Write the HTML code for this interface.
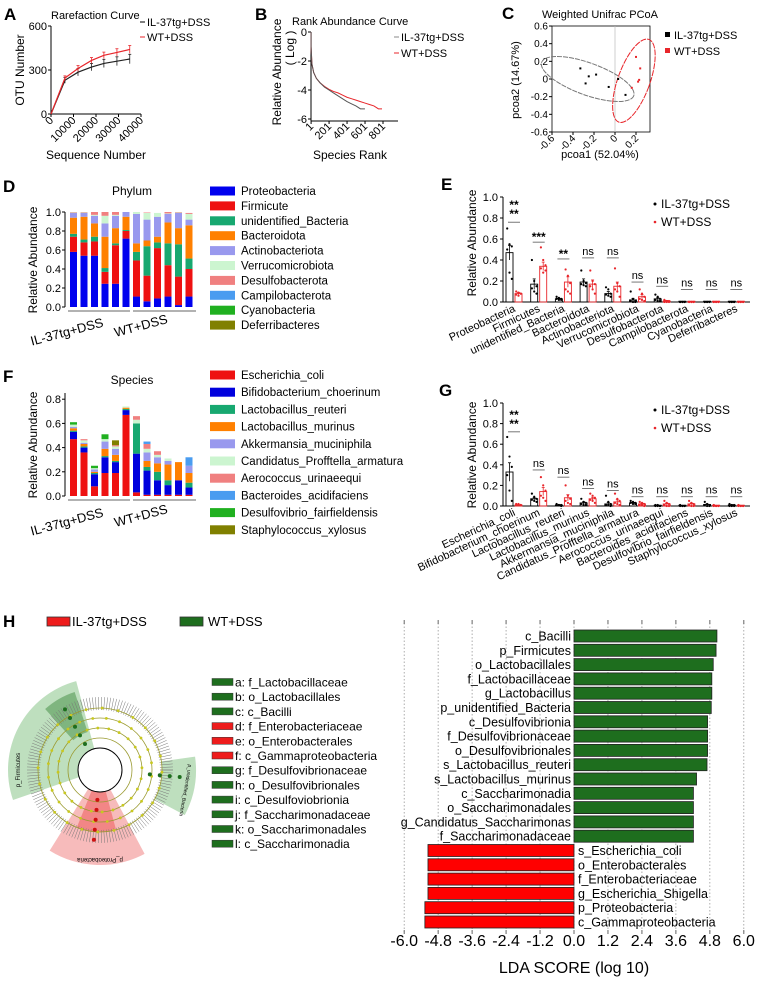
<!DOCTYPE html>
<html><head><meta charset="utf-8">
<style>
html,body{margin:0;padding:0;background:#fff;}
svg{display:block;font-family:"Liberation Sans",Arial,sans-serif;}
</style></head>
<body>
<svg id="fig" width="761" height="983" viewBox="0 0 761 983" xmlns="http://www.w3.org/2000/svg">
<rect width="761" height="983" fill="#fff"/>
<!-- Panel labels -->
<g font-weight="bold" font-size="17" fill="#000">
<text x="4" y="20">A</text>
<text x="255" y="20">B</text>
<text x="502" y="19">C</text>
<text x="3" y="192">D</text>
<text x="441" y="190">E</text>
<text x="3" y="382">F</text>
<text x="439" y="396">G</text>
<text x="3" y="627">H</text>
</g>
<!-- A static -->
<text x="51" y="19" font-size="11">Rarefaction Curve</text>
<text transform="translate(24,70) rotate(-90)" text-anchor="middle" font-size="12">OTU Number</text>
<text x="96" y="159" text-anchor="middle" font-size="12">Sequence Number</text>
<line x1="140" y1="22" x2="145" y2="22" stroke="#000"/>
<text x="147" y="26" font-size="11">IL-37tg+DSS</text>
<line x1="140" y1="37" x2="145" y2="37" stroke="#e8262b"/>
<text x="147" y="41" font-size="11">WT+DSS</text>
<!-- B static -->
<text x="292" y="25" font-size="11">Rank Abundance Curve</text>
<text transform="translate(281,72) rotate(-90)" text-anchor="middle" font-size="12">Relative Abundance</text>
<text transform="translate(294,48) rotate(-90)" text-anchor="middle" font-size="12">( Log )</text>
<text x="350" y="159" text-anchor="middle" font-size="12">Species Rank</text>
<line x1="394" y1="37" x2="399" y2="37" stroke="#888"/>
<text x="401" y="41" font-size="11">IL-37tg+DSS</text>
<line x1="394" y1="53" x2="399" y2="53" stroke="#e8262b"/>
<text x="401" y="57" font-size="11">WT+DSS</text>
<!-- C static -->
<text x="542" y="18" font-size="11">Weighted Unifrac PCoA</text>
<text transform="translate(519,80) rotate(-90)" text-anchor="middle" font-size="11">pcoa2 (14.67%)</text>
<text x="600" y="158" text-anchor="middle" font-size="11">pcoa1 (52.04%)</text>
<rect x="665" y="32" width="5" height="5" fill="#000"/>
<text x="674" y="39" font-size="11">IL-37tg+DSS</text>
<rect x="665" y="48" width="5" height="5" fill="#e8262b"/>
<text x="674" y="55" font-size="11">WT+DSS</text>
<!-- D/F static -->
<text x="132" y="195" text-anchor="middle" font-size="12">Phylum</text>
<text transform="translate(37,260) rotate(-90)" text-anchor="middle" font-size="12">Relative Abundance</text>
<text transform="translate(68,336) rotate(-15)" text-anchor="middle" font-size="13">IL-37tg+DSS</text>
<text transform="translate(142,330) rotate(-15)" text-anchor="middle" font-size="13">WT+DSS</text>
<text x="132" y="384" text-anchor="middle" font-size="12">Species</text>
<text transform="translate(37,445) rotate(-90)" text-anchor="middle" font-size="12">Relative Abundance</text>
<text transform="translate(68,526) rotate(-15)" text-anchor="middle" font-size="13">IL-37tg+DSS</text>
<text transform="translate(142,520) rotate(-15)" text-anchor="middle" font-size="13">WT+DSS</text>
<!-- E/G static -->
<text transform="translate(476,243) rotate(-90)" text-anchor="middle" font-size="12">Relative Abundance</text>
<text transform="translate(476,455) rotate(-90)" text-anchor="middle" font-size="12">Relative Abundance</text>
<circle cx="655" cy="204" r="1.5" fill="#000"/>
<text x="661" y="208" font-size="12">IL-37tg+DSS</text>
<circle cx="655" cy="222" r="1.3" fill="#e8262b"/>
<text x="661" y="226" font-size="12">WT+DSS</text>
<circle cx="655" cy="410" r="1.5" fill="#000"/>
<text x="661" y="414" font-size="12">IL-37tg+DSS</text>
<circle cx="655" cy="428" r="1.3" fill="#e8262b"/>
<text x="661" y="432" font-size="12">WT+DSS</text>
<!-- H static -->
<rect x="47" y="617" width="23" height="9" fill="#ee1c1c" stroke="#333" stroke-width="0.8"/>
<text x="72" y="626" font-size="13">IL-37tg+DSS</text>
<rect x="180" y="617" width="23" height="9" fill="#1e6e1e" stroke="#333" stroke-width="0.8"/>
<text x="208" y="626" font-size="13">WT+DSS</text>
<text x="574" y="973" text-anchor="middle" font-size="16">LDA SCORE (log 10)</text>
</svg>
<script>
// ===== Data arrays =====
// A rarefaction
const rareX = [0, 6200, 12000, 18000, 23500, 29300, 35000];
const rareIL = [0, 230, 285, 320, 345, 360, 375];
const rareWT = [0, 245, 310, 365, 400, 420, 440];
const rareErrIL = [0, 20, 25, 25, 28, 30, 32];
const rareErrWT = [0, 15, 20, 20, 22, 25, 27];
const rareXTicks = [0, 10000, 20000, 30000, 40000];
const rareYTicks = [0, 300, 600];
// B rank abundance
const rankX = [1, 10, 30, 60, 100, 150, 200, 250, 300, 350, 400, 450, 500, 550, 600, 650, 700, 750, 790];
const rankIL = [-1.0, -2.2, -2.8, -3.2, -3.5, -3.8, -4.0, -4.2, -4.4, -4.6, -4.8, -4.95, -5.1, -5.3, -5.3];
const rankWT = [-1.0, -2.2, -2.8, -3.2, -3.5, -3.75, -3.95, -4.1, -4.2, -4.35, -4.5, -4.6, -4.7, -4.8, -4.9, -5.0, -5.1, -5.3, -5.3];
const rankXTicks = [1, 201, 401, 601, 801];
const rankYTicks = [0, -2, -4, -6];
// C PCoA
const pcoaILx = [-0.33, -0.25, -0.18, -0.28, -0.06, 0.03, 0.10];
const pcoaILy = [0.12, 0.03, 0.05, -0.05, -0.09, 0.0, -0.18];
const pcoaWTx = [0.20, 0.24, 0.23, 0.22, 0.16];
const pcoaWTy = [0.25, 0.12, -0.01, -0.03, -0.10];
const pcoaTicks = [-0.6, -0.4, -0.2, 0, 0.2, 0.4, 0.6];
const pcoaXTicks = [-0.6, -0.4, -0.2, 0, 0.2];
// D phylum stacked
const phylumNames = ["Proteobacteria","Firmicute","unidentified_Bacteria","Bacteroidota","Actinobacteriota","Verrucomicrobiota","Desulfobacterota","Campilobacterota","Cyanobacteria","Deferribacteres"];
const phylumColors = ["#0000ee","#ee1111","#17a870","#ff8000","#9999ee","#ccf5d0","#f08080","#4a9cf0","#20b020","#808000"];
const phProteo = [.58,.54,.54,.245,.245,.72,.11,.06,.09,.11,.02,.11];
const phFirm = [.16,.14,.15,.125,.405,.08,.38,.27,.53,.33,.30,.29];
const phUnid = [.03,.03,.05,.04,.02,.01,.09,.31,.06,.23,.34,.11];
const phBact = [.17,.24,.14,.33,.16,.14,.09,.06,.06,.22,.17,.35];
const phActino = [.05,.04,.08,.14,.13,.05,.31,.22,.21,.09,.16,.06];
const phVerru = [.005,.005,.01,.08,.01,0,.02,.07,.04,.005,.005,.06];
const phDesulfo = [.005,.005,.03,.04,.03,0,0,.005,0,.015,.005,.01];
const phCampilo = [0,0,0,0,0,0,0,0,0,0,0,0];
const phCyano = [0,0,0,0,0,0,0,0,0,0,0,0];
const phDeferri = [0,0,0,0,0,0,0,0,0,0,0,0];
const stackTicks = [0, 0.2, 0.4, 0.6, 0.8, 1.0];
// F species stacked
const speciesNames = ["Escherichia_coli","Bifidobacterium_choerinum","Lactobacillus_reuteri","Lactobacillus_murinus","Akkermansia_muciniphila","Candidatus_Profftella_armatura","Aerococcus_urinaeequi","Bacteroides_acidifaciens","Desulfovibrio_fairfieldensis","Staphylococcus_xylosus"];
const speciesColors = ["#ee1111","#0000dd","#17a870","#ff8000","#9999ee","#ccf5d0","#f08080","#4a9cf0","#20b020","#808000"];
const spEcoli = [.47,.36,.08,.19,.19,.67,.03,.01,.01,.01,.01,.01];
const spBifido = [.06,.04,.10,.13,.09,.04,.32,.20,.12,.08,.12,.06];
const spReuteri = [.01,.01,.01,.01,.01,.01,.25,.03,.07,.04,0,.04];
const spMurinus = [.02,.02,.01,.06,.05,.01,0,.05,.07,.13,.15,.08];
const spAkk = [.01,.01,.02,.06,.05,0,0,.07,.05,.03,0,.06];
const spCand = [.02,.02,.01,.02,.02,.01,.03,.03,.02,.02,0,0];
const spAero = [0,.01,0,0,.01,0,.03,.04,.03,0,0,0];
const spBacteroides = [0,0,0,0,0,0,0,.02,0,0,0,.07];
const spDesulfo = [.02,0,.02,.04,0,0,0,0,0,0,0,0];
const spStaph = [0,0,0,0,.04,0,0,0,0,0,0,0];
const speciesTicks = [0, 0.2, 0.4, 0.6, 0.8];
// E phylum comparison
const eCats = ["Proteobacteria","Firmicutes","unidentified_Bacteria","Bacteroidota","Actinobacteriota","Verrucomicrobiota","Desulfobacterota","Campilobacterota","Cyanobacteria","Deferribacteres"];
const eMeanIL = [.47,.17,.03,.19,.08,.02,.03,.003,.003,.003];
const eMeanWT = [.08,.34,.19,.17,.15,.05,.01,.003,.003,.003];
const eErrIL = [.07,.05,.005,.03,.02,.015,.01,0,0,0];
const eErrWT = [.01,.04,.05,.04,.04,.02,.005,0,0,0];
const ePtsIL = [[.70,.55,.53,.50,.28,.22],[.40,.20,.15,.13,.10,.08],[.05,.04,.03,.03,.02,.02],[.30,.20,.18,.17,.16,.15],[.14,.12,.08,.07,.06,.05],[.10,.03,.01,.01,0,0],[.07,.05,.03,.02,.01,.01],[0,0,0,0,0,0],[0,0,0,0,0,0],[0,0,0,0,0,0]];
const ePtsWT = [[.10,.09,.08,.07,.06,.08],[.52,.40,.35,.32,.28,.30],[.31,.25,.18,.12,.10,.08],[.30,.20,.17,.15,.12,.08],[.32,.18,.15,.12,.10,.05],[.12,.08,.05,.03,.02,.01],[.02,.01,.01,0,0,0],[0,0,0,0,0,0],[0,0,0,0,0,0],[0,0,0,0,0,0]];
const eSig = ["**|**","***","**","ns","ns","ns","ns","ns","ns","ns"];
const eSigY = [.76,.57,.41,.42,.42,.19,.15,.12,.12,.12];
const gTicks = [0, 0.2, 0.4, 0.6, 0.8, 1.0];
// G species comparison
const gCats = ["Escherichia_coli","Bifidobacterium_choerinum","Lactobacillus_reuteri","Lactobacillus_murinus","Akkermansia_muciniphila","Candidatus_Profftella_armatura","Aerococcus_urinaeequi","Bacteroides_acidifaciens","Desulfovibrio_fairfieldensis","Staphylococcus_xylosus"];
const gMeanIL = [.33,.07,.01,.03,.02,.03,.005,.005,.015,.01];
const gMeanWT = [.01,.14,.08,.07,.04,.02,.02,.02,.005,.005];
const gErrIL = [.09,.01,.003,.01,.015,.005,0,0,.005,.003];
const gErrWT = [.003,.04,.03,.015,.02,.008,.008,.008,0,0];
const gPtsIL = [[.67,.48,.38,.30,.15,.05],[.12,.09,.07,.06,.05,.04],[.02,.01,.01,.01,.01,0],[.07,.04,.03,.02,.01,.01],[.10,.04,.02,.01,.01,0],[.05,.04,.03,.03,.02,.02],[.01,.01,0,0,0,0],[.01,0,0,0,0,0],[.04,.02,.01,.01,0,0],[.02,.01,.01,0,0,0]];
const gPtsWT = [[.02,.02,.01,.01,.01,.01],[.28,.20,.15,.10,.08,.05],[.20,.10,.07,.05,.03,.02],[.12,.10,.08,.06,.05,.03],[.12,.07,.05,.03,.02,.01],[.04,.03,.02,.01,.01,0],[.05,.03,.02,.01,0,0],[.05,.03,.02,.01,0,0],[.01,0,0,0,0,0],[.01,0,0,0,0,0]];
const gSig = ["**|**","ns","ns","ns","ns","ns","ns","ns","ns","ns"];
const gSigY = [.72,.35,.28,.17,.15,.09,.09,.09,.09,.09];
// H LDA
const ldaNames = ["c_Bacilli","p_Firmicutes","o_Lactobacillales","f_Lactobacillaceae","g_Lactobacillus","p_unidentified_Bacteria","c_Desulfovibrionia","f_Desulfovibrionaceae","o_Desulfovibrionales","s_Lactobacillus_reuteri","s_Lactobacillus_murinus","c_Saccharimonadia","o_Saccharimonadales","g_Candidatus_Saccharimonas","f_Saccharimonadaceae","s_Escherichia_coli","o_Enterobacterales","f_Enterobacteriaceae","g_Escherichia_Shigella","p_Proteobacteria","c_Gammaproteobacteria"];
const ldaScores = [5.05,5.02,4.92,4.87,4.87,4.85,4.72,4.72,4.72,4.70,4.33,4.22,4.22,4.22,4.22,-5.16,-5.16,-5.16,-5.16,-5.27,-5.27];
const ldaTicks = [-6.0,-4.8,-3.6,-2.4,-1.2,0.0,1.2,2.4,3.6,4.8,6.0];
const cladeNames = ["a: f_Lactobacillaceae","b: o_Lactobacillales","c: c_Bacilli","d: f_Enterobacteriaceae","e: o_Enterobacterales","f: c_Gammaproteobacteria","g: f_Desulfovibrionaceae","h: o_Desulfovibrionales","i: c_Desulfoviobrionia","j: f_Saccharimonadaceae","k: o_Saccharimonadales","l: c_Saccharimonadia"];
const cladeGroup = ["WT","WT","WT","IL","IL","IL","WT","WT","WT","WT","WT","WT"];

// ===== helpers =====
const NS = "http://www.w3.org/2000/svg";
const svg = document.getElementById("fig");
const RED = "#e8262b";
function el(tag, attrs, parent) {
  const e = document.createElementNS(NS, tag);
  for (const k in attrs) e.setAttribute(k, attrs[k]);
  (parent || svg).appendChild(e);
  return e;
}
function nm(e, name) {
  
  
  return e;
}
function txt(x, y, s, size, anchor, extra) {
  const e = el("text", Object.assign({x: x, y: y, "font-size": size, "text-anchor": anchor || "start"}, extra || {}));
  e.textContent = s;
  return e;
}
function line(x1, y1, x2, y2, stroke, w, extra) {
  return el("line", Object.assign({x1: x1, y1: y1, x2: x2, y2: y2, stroke: stroke || "#000", "stroke-width": w || 1}, extra || {}));
}
function fmt(v, d) { return v.toFixed(d); }

// ===== Panel A =====
const xA = v => 51 + v / 40000 * 90;
const yA = v => 114 - v / 600 * 88;
nm(line(51, 26, 51, 114), 'a-y-axis');
nm(line(51, 114, 141, 114), 'a-x-axis');
rareYTicks.forEach(t => {
  nm(line(48, yA(t), 51, yA(t)), 'a-y-tick');
  nm(txt(47, yA(t) + 4, String(t), 11, "end"), 'a-y-tick-label');
});
rareXTicks.forEach(t => {
  nm(line(xA(t), 114, xA(t), 117), 'a-x-tick');
  const e = txt(0, 0, String(t), 11, "end", {transform: `translate(${xA(t) + 3},${121}) rotate(-45)`});
  nm(e, 'a-x-tick-label');
});
function rareSeries(vals, errs, col, name) {
  const pts = rareX.map((x, i) => `${xA(x)},${yA(vals[i])}`).join(" ");
  nm(el("polyline", {points: pts, fill: "none", stroke: col, "stroke-width": 1.2}), name + '-line');
  rareX.forEach((x, i) => {
    if (errs[i] > 0) {
      nm(line(xA(x), yA(vals[i] - errs[i]), xA(x), yA(vals[i] + errs[i]), col, 0.8), name + '-errorbar');
      nm(line(xA(x) - 1.5, yA(vals[i] + errs[i]), xA(x) + 1.5, yA(vals[i] + errs[i]), col, 0.8), name + '-errorcap');
    }
  });
}
rareSeries(rareIL, rareErrIL, "#222", 'a-il37');
rareSeries(rareWT, rareErrWT, RED, 'a-wt');

// ===== Panel B =====
const xB = r => 311 + r / 801 * 72;
const yB = v => 32 + (-v) * 14.5;
nm(line(311, 32, 311, 121), 'b-y-axis');
nm(line(311, 121, 398, 121), 'b-x-axis');
rankYTicks.forEach(t => {
  nm(line(308, yB(t), 311, yB(t)), 'b-y-tick');
  nm(txt(307, yB(t) + 4, String(t), 11, "end"), 'b-y-tick-label');
});
rankXTicks.forEach(t => {
  nm(line(xB(t), 121, xB(t), 124), 'b-x-tick');
  nm(txt(0, 0, String(t), 11, "end", {transform: `translate(${xB(t) + 3},${127}) rotate(-45)`}), 'b-x-tick-label');
});
function rankLine(vals, col, name) {
  const pts = vals.map((v, i) => `${xB(rankX[i])},${yB(v)}`);
  pts.unshift(`${xB(1)},${yB(0)}`);
  nm(el("polyline", {points: pts.join(" "), fill: "none", stroke: col, "stroke-width": 1}), name);
}
rankLine(rankWT, RED, 'b-wt-curve');
rankLine(rankIL, "#555", 'b-il37-curve');

// ===== Panel C =====
const xC = v => 552 + (v + 0.6) * 105;
const yC = v => 79 - v * 88.3;
nm(el("rect", {x: 552, y: 26, width: 98, height: 106, fill: "none", stroke: "#000", "stroke-width": 0.8}), 'c-plot-frame');
nm(line(xC(0), 26, xC(0), 132, "#bbb", 0.7), 'c-zero-line');
pcoaTicks.forEach(t => {
  nm(line(549, yC(t), 552, yC(t)), 'c-y-tick');
  nm(txt(548, yC(t) + 3.5, t === 0 ? "0" : fmt(t, 1), 10, "end"), 'c-y-tick-label');
});
pcoaXTicks.forEach(t => {
  nm(line(xC(t), 132, xC(t), 135), 'c-x-tick');
  nm(txt(0, 0, t === 0 ? "0" : fmt(t, 1), 10, "end", {transform: `translate(${xC(t) + 3},${139}) rotate(-45)`}), 'c-x-tick-label');
});
nm(el("ellipse", {cx: xC(-0.26), cy: yC(0.0), rx: 49, ry: 16, transform: `rotate(20 ${xC(-0.26)} ${yC(0)})`, fill: "none", stroke: "#777", "stroke-width": 1, "stroke-dasharray": "5 1"}), 'c-ellipse-il37');
nm(el("ellipse", {cx: xC(0.18), cy: yC(-0.02), rx: 16, ry: 44, transform: `rotate(20 ${xC(0.18)} ${yC(-0.02)})`, fill: "none", stroke: RED, "stroke-width": 1, "stroke-dasharray": "6 1"}), 'c-ellipse-wt');
pcoaILx.forEach((v, i) => nm(el("rect", {x: xC(v) - 1, y: yC(pcoaILy[i]) - 1, width: 2, height: 2, fill: "#000"}), 'c-point-il37'));
pcoaWTx.forEach((v, i) => nm(el("rect", {x: xC(v) - 1, y: yC(pcoaWTy[i]) - 1, width: 2, height: 2, fill: RED}), 'c-point-wt'));

// ===== Stacked bars D & F =====
function stacked(series, colors, names, yF, y0, ticks, axisTop, prefix, legendY0, legendStep) {
  nm(line(65, axisTop, 65, y0), prefix + '-y-axis');
  ticks.forEach(t => {
    nm(line(62, yF(t), 65, yF(t)), prefix + '-y-tick');
    nm(txt(61, yF(t) + 4, fmt(t, 1), 11, "end"), prefix + '-y-tick-label');
  });
  for (let b = 0; b < 12; b++) {
    let acc = 0;
    series.forEach((s, k) => {
      const v = s[b];
      if (v > 0) {
        const r = el("rect", {x: 70 + b * 10.5, y: yF(acc + v), width: 7, height: yF(acc) - yF(acc + v), fill: colors[k]});
        nm(r, prefix + '-bar-segment');
      }
      acc += v;
    });
  }
  nm(line(68, y0 + 4, 130, y0 + 4, "#666", 1), prefix + '-group-line-il37');
  nm(line(133, y0 + 4, 196, y0 + 4, "#666", 1), prefix + '-group-line-wt');
  names.forEach((n, i) => {
    const cy = legendY0 + i * legendStep;
    nm(el("rect", {x: 210, y: cy - 4.5, width: 25, height: 9, fill: colors[i]}), prefix + '-legend-swatch');
    nm(txt(241, cy + 4, n, 11.5), prefix + '-legend-label');
  });
}
const yD = v => 307 - v * 95;
stacked([phProteo, phFirm, phUnid, phBact, phActino, phVerru, phDesulfo, phCampilo, phCyano, phDeferri], phylumColors, phylumNames, yD, 307, stackTicks, 212, 'd', 191, 14.9);
const yFs = v => 496 - v * 121;
stacked([spEcoli, spBifido, spReuteri, spMurinus, spAkk, spCand, spAero, spBacteroides, spDesulfo, spStaph], speciesColors, speciesNames, yFs, 496, speciesTicks, 393, 'f', 375, 17.2);

// ===== Bar comparisons E & G =====
function compare(cats, mIL, mWT, eIL, eWT, pIL, pWT, sig, sigY, yF, y0, top, prefix) {
  nm(line(503, top, 503, y0), prefix + '-y-axis');
  nm(line(503, y0, 750, y0), prefix + '-x-axis');
  gTicks.forEach(t => {
    nm(line(500, yF(t), 503, yF(t)), prefix + '-y-tick');
    nm(txt(498, yF(t) + 4, fmt(t, 1), 11, "end"), prefix + '-y-tick-label');
  });
  cats.forEach((c, i) => {
    const xb = 506 + i * 24.7, xr = 515 + i * 24.7;
    [[xb, mIL[i], eIL[i], pIL[i], "#000", 'il37'], [xr, mWT[i], eWT[i], pWT[i], RED, 'wt']].forEach(([x, m, e, pts, col, g]) => {
      const h = Math.max(yF(0) - yF(m), 0.8);
      nm(el("rect", {x: x, y: yF(0) - h, width: 7, height: h, fill: "none", stroke: col, "stroke-width": 0.9}), prefix + '-bar-' + g);
      if (e > 0) {
        nm(line(x + 3.5, yF(m - e), x + 3.5, yF(m + e), col, 0.8), prefix + '-errorbar-' + g);
        nm(line(x + 2, yF(m + e), x + 5, yF(m + e), col, 0.8), prefix + '-errorcap-' + g);
      }
      pts.forEach((p, j) => {
        nm(el("circle", {cx: x + 1.2 + (j % 3) * 2.3, cy: yF(p), r: 1.1, fill: col}), prefix + '-point-' + g);
      });
    });
    const cx = xb + 8;
    const ly = yF(sigY[i]);
    nm(line(cx - 6, ly, cx + 6, ly, sig[i] === "ns" ? "#555" : "#555", 0.8), prefix + '-sig-line');
    if (sig[i].indexOf("|") >= 0) {
      nm(txt(cx, ly - 4, "**", 12, "middle", {"font-weight": "bold"}), prefix + '-sig-stars');
      nm(txt(cx, ly - 13, "**", 12, "middle", {"font-weight": "bold"}), prefix + '-sig-stars');
    } else if (sig[i] === "ns") {
      nm(txt(cx, ly - 3, "ns", 11, "middle"), prefix + '-sig-ns');
    } else {
      nm(txt(cx, ly - 1, sig[i], 12, "middle", {"font-weight": "bold"}), prefix + '-sig-stars');
    }
    nm(txt(0, 0, c, 11, "end", {transform: `translate(${xb + 10},${y0 + 9}) rotate(-25)`}), prefix + '-x-tick-label');
  });
}
const yE = v => 302 - v * 105;
compare(eCats, eMeanIL, eMeanWT, eErrIL, eErrWT, ePtsIL, ePtsWT, eSig, eSigY, yE, 302, 197, 'e');
const yG = v => 506 - v * 103;
compare(gCats, gMeanIL, gMeanWT, gErrIL, gErrWT, gPtsIL, gPtsWT, gSig, gSigY, yG, 506, 403, 'g');

// ===== Cladogram (H left) =====
const CX = 100, CY = 770;
function arcPath(r0, r1, a0, a1) {
  const rad = a => a * Math.PI / 180;
  const p = (r, a) => `${CX + r * Math.cos(rad(a))},${CY + r * Math.sin(rad(a))}`;
  const large = (a1 - a0) > 180 ? 1 : 0;
  return `M${p(r0, a0)} L${p(r1, a0)} A${r1},${r1} 0 ${large} 1 ${p(r1, a1)} L${p(r0, a1)} A${r0},${r0} 0 ${large} 0 ${p(r0, a0)} Z`;
}
nm(el("path", {d: arcPath(22, 92, 161, 255), fill: "rgba(110,185,110,0.45)"}), 'clade-sector-firmicutes');
nm(el("path", {d: arcPath(40, 82, 228, 252), fill: "rgba(50,130,50,0.45)"}), 'clade-sector-bacilli');
nm(el("path", {d: arcPath(22, 95, 62, 122), fill: "rgba(240,120,120,0.5)"}), 'clade-sector-proteobacteria');
nm(el("path", {d: arcPath(22, 62, 75, 112), fill: "rgba(235,70,70,0.45)"}), 'clade-sector-gamma');
nm(el("path", {d: arcPath(62, 96, -8, 28), fill: "rgba(110,185,110,0.45)"}), 'clade-sector-unidentified');
for (let a = 0; a < 360; a += 2.4) {
  const r = a * Math.PI / 180;
  nm(line(CX + 60 * Math.cos(r), CY + 60 * Math.sin(r), CX + 73 * Math.cos(r), CY + 73 * Math.sin(r), "#777", 0.5), 'clade-leaf-branch');
}
[32, 42, 52, 62].forEach(r => nm(el("circle", {cx: CX, cy: CY, r: r, fill: "none", stroke: "#9a9a30", "stroke-width": 0.8}), 'clade-ring'));
nm(el("circle", {cx: CX, cy: CY, r: 22, fill: "none", stroke: "#000", "stroke-width": 1}), 'clade-root-ring');
for (let a = 0; a < 360; a += 15) {
  [42, 52, 62].forEach(r => {
    const t = (a + r) * Math.PI / 180;
    nm(el("circle", {cx: CX + r * Math.cos(t), cy: CY + r * Math.sin(t), r: 1.4, fill: "#c8c820"}), 'clade-node');
  });
}
[30, 40, 50, 60, 70].forEach(r => {
  const t = 95 * Math.PI / 180;
  nm(el("circle", {cx: CX + r * Math.cos(t), cy: CY + r * Math.sin(t), r: 2, fill: "#d01010"}), 'clade-node-il37');
  const u = 240 * Math.PI / 180;
  nm(el("circle", {cx: CX + r * Math.cos(u), cy: CY + r * Math.sin(u), r: 2, fill: "#1e6e1e"}), 'clade-node-wt');
});
[50, 60, 70, 80].forEach(r => {
  const t = 5 * Math.PI / 180;
  nm(el("circle", {cx: CX + r * Math.cos(t), cy: CY + r * Math.sin(t), r: 2, fill: "#1e6e1e"}), 'clade-node-wt');
});
nm(txt(0, 0, "p_Firmicutes", 6, "middle", {transform: "translate(20,770) rotate(-90)"}), 'clade-label-firmicutes');
nm(txt(0, 0, "p_Proteobacteria", 6, "middle", {transform: "translate(100,858) rotate(180)"}), 'clade-label-proteobacteria');
nm(txt(0, 0, "p_unidentified_Bacteria", 5, "middle", {transform: "translate(184,790) rotate(100)"}), 'clade-label-unidentified');
cladeNames.forEach((n, i) => {
  const cy = 682 + i * 14.7;
  nm(el("rect", {x: 212, y: cy - 3.5, width: 21, height: 7, fill: cladeGroup[i] === "IL" ? "#ee1c1c" : "#1e6e1e", stroke: "#333", "stroke-width": 0.5}), 'clade-legend-swatch');
  nm(txt(235, cy + 4.5, n, 12), 'clade-legend-label');
});

// ===== LDA bar chart =====
const xL = v => 574 + v * 28.3;
const yL = i => 636 + i * 14.3;
ldaTicks.forEach(t => {
  nm(line(xL(t), 623, xL(t), 932, "#999", 0.8, {"stroke-dasharray": "1.5 2"}), 'lda-gridline');
  nm(line(xL(t), 620, xL(t), 624, "#666", 1), 'lda-top-tick');
  nm(line(xL(t), 930, xL(t), 934, "#666", 1), 'lda-bottom-tick');
  nm(txt(xL(t), 946, fmt(t, 1), 16, "middle"), 'lda-tick-label');
});
ldaScores.forEach((v, i) => {
  const y = yL(i);
  const x0 = Math.min(xL(0), xL(v)), w = Math.abs(xL(v) - xL(0));
  nm(el("rect", {x: x0, y: y - 6, width: w, height: 12, fill: v > 0 ? "#1e6e1e" : "#ff0000", stroke: "#222", "stroke-width": 0.8}), v > 0 ? 'lda-bar-wt' : 'lda-bar-il37');
  nm(txt(v > 0 ? 571 : 578, y + 4.5, ldaNames[i], 12.5, v > 0 ? "end" : "start"), 'lda-bar-label');
});
</script>
</body></html>
